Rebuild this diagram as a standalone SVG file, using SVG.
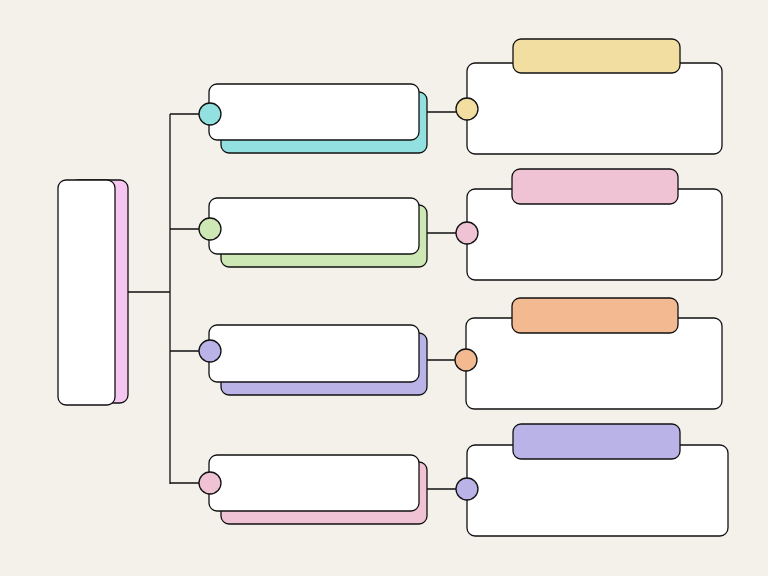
<svg xmlns="http://www.w3.org/2000/svg" width="768" height="576" viewBox="0 0 768 576">
<style>
.s{stroke:#111;stroke-width:1.3}
.w{fill:#fff;stroke:#111;stroke-width:1.3}
.l{stroke:#111;stroke-width:1.3;fill:none}
</style>
<rect width="768" height="576" fill="#f3f1ea"/>
<g id="connectors">
<path class="l" d="M128 292H170M170 114V484M170 114H199M170 229H199M170 351H199M170 483H199M419 112H456M419 233H456M419 360H455M419 489H456"/>
</g>
<g id="root">
<rect class="s" x="70" y="180" width="58" height="223" rx="8" fill="#f5c6f0"/>
<rect class="w" x="58" y="180" width="57" height="225" rx="8"/>
</g>
<g id="b1"><rect class="s" x="221" y="92" width="206" height="61" rx="8" fill="#93e0e0"/><rect class="w" x="209" y="84" width="210" height="56" rx="8"/><circle class="s" cx="210" cy="114" r="11" fill="#93e0e0"/></g>
<g id="b2"><rect class="s" x="221" y="205" width="206" height="62" rx="8" fill="#cde8b4"/><rect class="w" x="209" y="198" width="210" height="56" rx="8"/><circle class="s" cx="210" cy="229" r="11" fill="#cde8b4"/></g>
<g id="b3"><rect class="s" x="221" y="333" width="206" height="62" rx="8" fill="#b9b3e8"/><rect class="w" x="209" y="325" width="210" height="57" rx="8"/><circle class="s" cx="210" cy="351" r="11" fill="#b9b3e8"/></g>
<g id="b4"><rect class="s" x="221" y="462" width="206" height="62" rx="8" fill="#efc3d4"/><rect class="w" x="209" y="455" width="210" height="56" rx="8"/><circle class="s" cx="210" cy="483" r="11" fill="#efc3d4"/></g>
<g id="r1"><rect class="w" x="467" y="63" width="255" height="91" rx="8"/><rect class="s" x="513" y="39" width="167" height="34" rx="8" fill="#f2dea0"/><circle class="s" cx="467" cy="109" r="11" fill="#f2dea0"/></g>
<g id="r2"><rect class="w" x="467" y="189" width="255" height="91" rx="8"/><rect class="s" x="512" y="169" width="166" height="35" rx="8" fill="#efc3d4"/><circle class="s" cx="467" cy="233" r="11" fill="#efc3d4"/></g>
<g id="r3"><rect class="w" x="466" y="318" width="256" height="91" rx="8"/><rect class="s" x="512" y="298" width="166" height="35" rx="8" fill="#f3b990"/><circle class="s" cx="466" cy="360" r="11" fill="#f3b990"/></g>
<g id="r4"><rect class="w" x="467" y="445" width="261" height="91" rx="8"/><rect class="s" x="513" y="424" width="167" height="35" rx="8" fill="#b9b3e8"/><circle class="s" cx="467" cy="489" r="11" fill="#b9b3e8"/></g>
</svg>
